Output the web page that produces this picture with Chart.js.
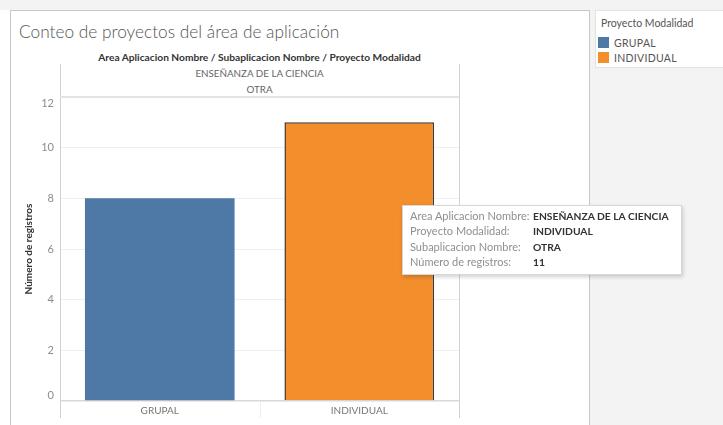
<!DOCTYPE html>
<html><head><meta charset="utf-8">
<script src="https://cdn.jsdelivr.net/npm/chart.js@4"></script>
<style>
html,body{margin:0;padding:0;width:723px;height:425px;overflow:hidden;background:#fff;font-family:Lato,"Noto Sans",sans-serif;}
#top{position:absolute;left:0;top:0;width:723px;height:10px;background:#f3f3f3;}
#side{position:absolute;left:589px;top:0;width:134px;height:425px;background:#f3f3f3;}
#panel{position:absolute;left:10px;top:10px;width:578px;height:420px;border:1px solid #c8c8c8;border-bottom:none;background:#fff;}
#title{position:absolute;left:19px;top:21px;font-size:17.3px;font-weight:300;color:#555;white-space:nowrap;}
.hdr{position:absolute;left:60px;width:399px;text-align:center;white-space:nowrap;}
#h1{top:51px;font-size:10.2px;font-weight:bold;color:#333;}
#h2{top:67px;font-size:9.8px;color:#666;}
#h3{top:83px;font-size:9.8px;color:#666;}
#cv{position:absolute;left:0;top:0;}
#legend{position:absolute;left:595px;top:10px;width:140px;height:56px;background:#fff;border:1px solid #e2e2e2;}
#legend .lt{position:absolute;left:5px;top:6px;font-size:10.5px;color:#555;white-space:nowrap;}
#legend .li{position:absolute;left:2px;font-size:10.5px;color:#555;white-space:nowrap;letter-spacing:0.3px;}
#legend .sw{display:inline-block;width:11px;height:11px;vertical-align:-1px;margin-right:5px;}
#tip{position:absolute;left:402px;top:205px;width:278px;height:68px;background:#fff;border:1px solid #d8d8d8;box-shadow:1px 2px 4px rgba(0,0,0,0.18);font-size:11px;}
#tip .row{position:absolute;left:7px;white-space:nowrap;}
#tip .k{display:inline-block;width:123px;color:#8f8f8f;}
#tip .v{color:#333;font-weight:bold;font-size:10.3px;}
</style></head>
<body>
<div id="top"></div><div id="side"></div>
<div id="panel"></div>
<div id="title">Conteo de proyectos del área de aplicación</div>
<div class="hdr" id="h1"></div>
<div class="hdr" id="h2"></div>
<div class="hdr" id="h3"></div>
<canvas id="cv" width="723" height="425"></canvas>
<div id="legend"></div>
<div id="tip"></div>
<script>
// ---- data ----
const categories = ['GRUPAL', 'INDIVIDUAL'];
const counts = [8, 11];
const yTicks = [0, 2, 4, 6, 8, 10, 12];
const areaName = 'ENSEÑANZA DE LA CIENCIA';
const subName = 'OTRA';
const headerFields = ['Area Aplicacion Nombre', 'Subaplicacion Nombre', 'Proyecto Modalidad'];
const measureName = 'Número de registros';
const legendTitle = 'Proyecto Modalidad';
const selectedIndex = 1;

// ---- styles ----
const barColors = ['#4e79a7', '#f28e2b'];
const tickColor = '#8c8c8c';
const tickFont = '11px Lato, "Noto Sans", sans-serif';

document.getElementById('h1').textContent = headerFields.join(' / ');
document.getElementById('h2').textContent = areaName;
document.getElementById('h3').textContent = subName;

const lg = document.getElementById('legend');
let lh = '<div class="lt">' + legendTitle + '</div>';
categories.forEach((c, i) => {
  lh += '<div class="li" style="top:' + (26 + i * 15) + 'px"><span class="sw" style="background:' + barColors[i] + '"></span>' + c + '</div>';
});
lg.innerHTML = lh;

const tipRows = [
  [headerFields[0] + ':', areaName],
  [headerFields[2] + ':', categories[selectedIndex]],
  [headerFields[1] + ':', subName],
  [measureName + ':', String(counts[selectedIndex])]
];
document.getElementById('tip').innerHTML = tipRows.map((r, i) =>
  '<div class="row" style="top:' + (3 + i * 15.3) + 'px"><span class="k">' + r[0] + '</span><span class="v">' + r[1] + '</span></div>').join('');

const yMin = yTicks[0], yMax = yTicks[yTicks.length - 1];

const frame = {
  id: 'frame',
  afterDraw(chart) {
    const { ctx, chartArea: a, scales: { x, y } } = chart;
    ctx.save();
    ctx.strokeStyle = '#d2d2d2';
    ctx.lineWidth = 1;
    [a.left, a.right].forEach(px => {
      ctx.beginPath(); ctx.moveTo(Math.round(px) + 0.5, 64); ctx.lineTo(Math.round(px) + 0.5, 418); ctx.stroke();
    });
    ctx.strokeStyle = '#eeeeee';
    for (let i = 0; i < categories.length - 1; i++) {
      const mid = Math.round((x.getPixelForValue(i) + x.getPixelForValue(i + 1)) / 2) + 0.5;
      ctx.beginPath(); ctx.moveTo(mid, a.bottom); ctx.lineTo(mid, 418); ctx.stroke();
    }
    ctx.strokeStyle = '#e4e4e4';
    ctx.lineWidth = 2;
    ctx.beginPath(); ctx.moveTo(a.left, a.top); ctx.lineTo(a.right, a.top); ctx.stroke();
    // end labels nudged inside the plot, as Tableau does
    ctx.fillStyle = tickColor;
    ctx.font = tickFont;
    ctx.textAlign = 'right';
    ctx.textBaseline = 'middle';
    ctx.fillText(String(yMax), a.left - 6, y.getPixelForValue(yMax) + 6);
    ctx.fillText(String(yMin), a.left - 6, y.getPixelForValue(yMin) - 6);
    ctx.restore();
  }
};

Chart.defaults.font.family = 'Lato, "Noto Sans", sans-serif';
new Chart(document.getElementById('cv'), {
  type: 'bar',
  data: {
    labels: categories,
    datasets: [{
      label: measureName,
      data: counts,
      backgroundColor: barColors,
      borderColor: categories.map((c, i) => i === selectedIndex ? '#4a3520' : 'rgba(0,0,0,0)'),
      borderWidth: categories.map((c, i) => i === selectedIndex ? 1.5 : 0),
      barPercentage: 0.75,
      categoryPercentage: 1
    }]
  },
  plugins: [frame],
  options: {
    responsive: false,
    animation: false,
    layout: { padding: { left: 0, top: 97, right: 264, bottom: 0 } },
    plugins: { legend: { display: false }, tooltip: { enabled: false } },
    scales: {
      x: {
        grid: { display: false, drawTicks: false }, border: { display: false },
        ticks: { color: '#777', font: { size: 10 }, padding: 4, maxRotation: 0 },
        afterFit(s) { s.height = 24; }
      },
      y: {
        min: yMin, max: yMax,
        afterBuildTicks(s) { s.ticks = yTicks.map(v => ({ value: v })); },
        ticks: { color: tickColor, font: { size: 11 }, padding: 6,
          callback: v => (v === yMin || v === yMax) ? '' : String(v) },
        grid: {
          drawTicks: false,
          color: c => c.tick && c.tick.value === 0 ? '#d8d8d8' : '#efefef',
          lineWidth: c => c.tick && c.tick.value === 0 ? 1.5 : 1
        },
        border: { display: false },
        title: { display: true, text: measureName, color: '#333', font: { size: 10, weight: 'bold' }, padding: { top: 23, bottom: 0 } },
        afterFit(s) { s.width = 60; }
      }
    }
  }
});
</script>
</body></html>
